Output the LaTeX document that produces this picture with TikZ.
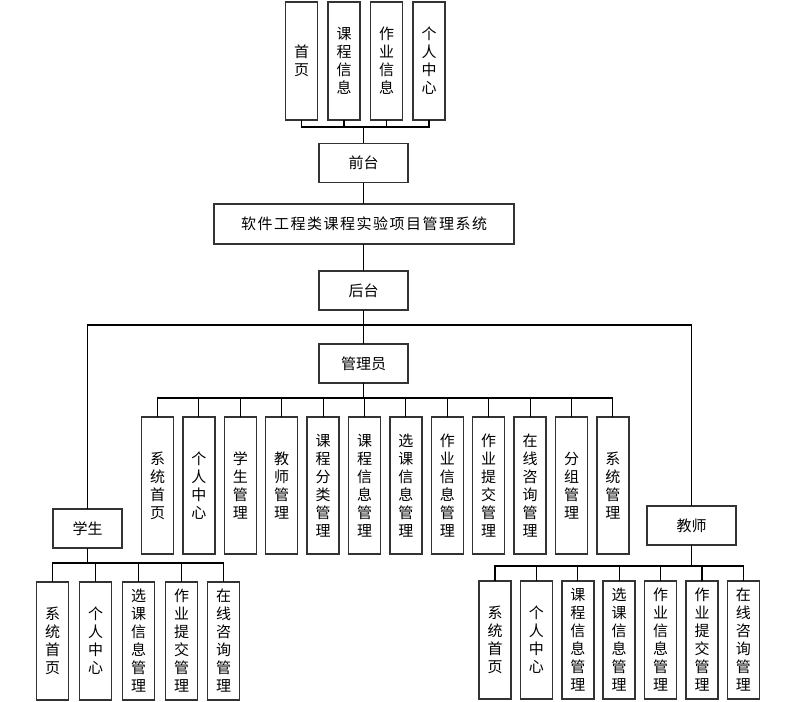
\documentclass[tikz,border=0pt]{standalone}
\usepackage{fontspec}
\setmainfont{Noto Sans CJK SC}
\begin{document}
\begin{tikzpicture}[x=0.75pt,y=-0.75pt,line cap=rect,
  box/.style={draw=black!80,line width=1.1pt,inner sep=0pt,align=center,font=\fontsize{11.25}{13.5}\selectfont},
  hbox/.style={box,minimum width=66.75pt,minimum height=29.5pt},
  vbox/.style={box,minimum width=24pt,minimum height=88.5pt},
  wire/.style={line width=0.8pt}]
  \useasboundingbox (0,0) rectangle (789,701);
  % front end
  \node[vbox] (f1) at (301.5,61) {首\\页};
  \node[vbox] (f2) at (344,61) {课\\程\\信\\息};
  \node[vbox] (f3) at (386.5,61) {作\\业\\信\\息};
  \node[vbox] (f4) at (429,61) {个\\人\\中\\心};
  \node[hbox] (qt) at (363.5,163) {前台};
  \node[box,minimum width=225pt,minimum height=30pt,font=\fontsize{11.25}{13.5}\selectfont\addfontfeature{LetterSpace=10}] (sys) at (364,224) {软件工程类课程实验项目管理系统};
  \node[hbox] (ht) at (363.5,290.5) {后台};
  % admin
  \node[hbox] (gly) at (363.5,363.5) {管理员};
  \node[vbox,minimum height=102.75pt] (g1) at (157.5,485.5) {系\\统\\首\\页};
  \node[vbox,minimum height=102.75pt] (g2) at (198.9,485.5) {个\\人\\中\\心};
  \node[vbox,minimum height=102.75pt] (g3) at (240.3,485.5) {学\\生\\管\\理};
  \node[vbox,minimum height=102.75pt] (g4) at (281.7,485.5) {教\\师\\管\\理};
  \node[vbox,minimum height=102.75pt] (g5) at (323.1,485.5) {课\\程\\分\\类\\管\\理};
  \node[vbox,minimum height=102.75pt] (g6) at (364.5,485.5) {课\\程\\信\\息\\管\\理};
  \node[vbox,minimum height=102.75pt] (g7) at (405.9,485.5) {选\\课\\信\\息\\管\\理};
  \node[vbox,minimum height=102.75pt] (g8) at (447.3,485.5) {作\\业\\信\\息\\管\\理};
  \node[vbox,minimum height=102.75pt] (g9) at (488.7,485.5) {作\\业\\提\\交\\管\\理};
  \node[vbox,minimum height=102.75pt] (g10) at (530.1,485.5) {在\\线\\咨\\询\\管\\理};
  \node[vbox,minimum height=102.75pt] (g11) at (571.5,485.5) {分\\组\\管\\理};
  \node[vbox,minimum height=102.75pt] (g12) at (612.9,485.5) {系\\统\\管\\理};
  % student
  \node[hbox,minimum width=51.75pt] (xs) at (87.5,528.5) {学生};
  \node[vbox] (s1) at (52.5,641) {系\\统\\首\\页};
  \node[vbox] (s2) at (95.5,641) {个\\人\\中\\心};
  \node[vbox] (s3) at (138.5,641) {选\\课\\信\\息\\管\\理};
  \node[vbox] (s4) at (181.5,641) {作\\业\\提\\交\\管\\理};
  \node[vbox] (s5) at (223.5,641) {在\\线\\咨\\询\\管\\理};
  % teacher
  \node[hbox] (js) at (691.5,525.5) {教师};
  \node[vbox] (t1) at (495,640) {系\\统\\首\\页};
  \node[vbox] (t2) at (536.4,640) {个\\人\\中\\心};
  \node[vbox] (t3) at (577.8,640) {课\\程\\信\\息\\管\\理};
  \node[vbox] (t4) at (619.2,640) {选\\课\\信\\息\\管\\理};
  \node[vbox] (t5) at (660.6,640) {作\\业\\信\\息\\管\\理};
  \node[vbox] (t6) at (702,640) {作\\业\\提\\交\\管\\理};
  \node[vbox] (t7) at (743.4,640) {在\\线\\咨\\询\\管\\理};
  % buses
  \coordinate (qbus) at (363.5,127);
  \coordinate (mbus) at (363.5,325);
  \coordinate (gbus) at (363.5,398);
  \coordinate (sbus) at (87.5,563);
  \coordinate (tbus) at (691.5,566);
  \foreach \n in {f1,f2,f3,f4} \draw[wire] (\n.south) |- (qbus);
  \draw[wire] (qbus) -- (qt.north);
  \draw[wire] (qt.south) -- (qt.south |- sys.north);
  \draw[wire] (sys.south -| ht.north) -- (ht.north);
  \draw[wire] (ht.south) -- (mbus);
  \draw[wire] (mbus) -- (gly.north);
  \draw[wire] (xs.north) |- (mbus);
  \draw[wire] (js.north) |- (mbus);
  \draw[wire] (gly.south) -- (gbus);
  \foreach \n in {g1,g2,g3,g4,g5,g6,g7,g8,g9,g10,g11,g12} \draw[wire] (\n.north) |- (gbus);
  \draw[wire] (xs.south) -- (sbus);
  \foreach \n in {s1,s2,s3,s4,s5} \draw[wire] (\n.north) |- (sbus);
  \draw[wire] (js.south) -- (tbus);
  \foreach \n in {t1,t2,t3,t4,t5,t6,t7} \draw[wire] (\n.north) |- (tbus);
\end{tikzpicture}
\end{document}
